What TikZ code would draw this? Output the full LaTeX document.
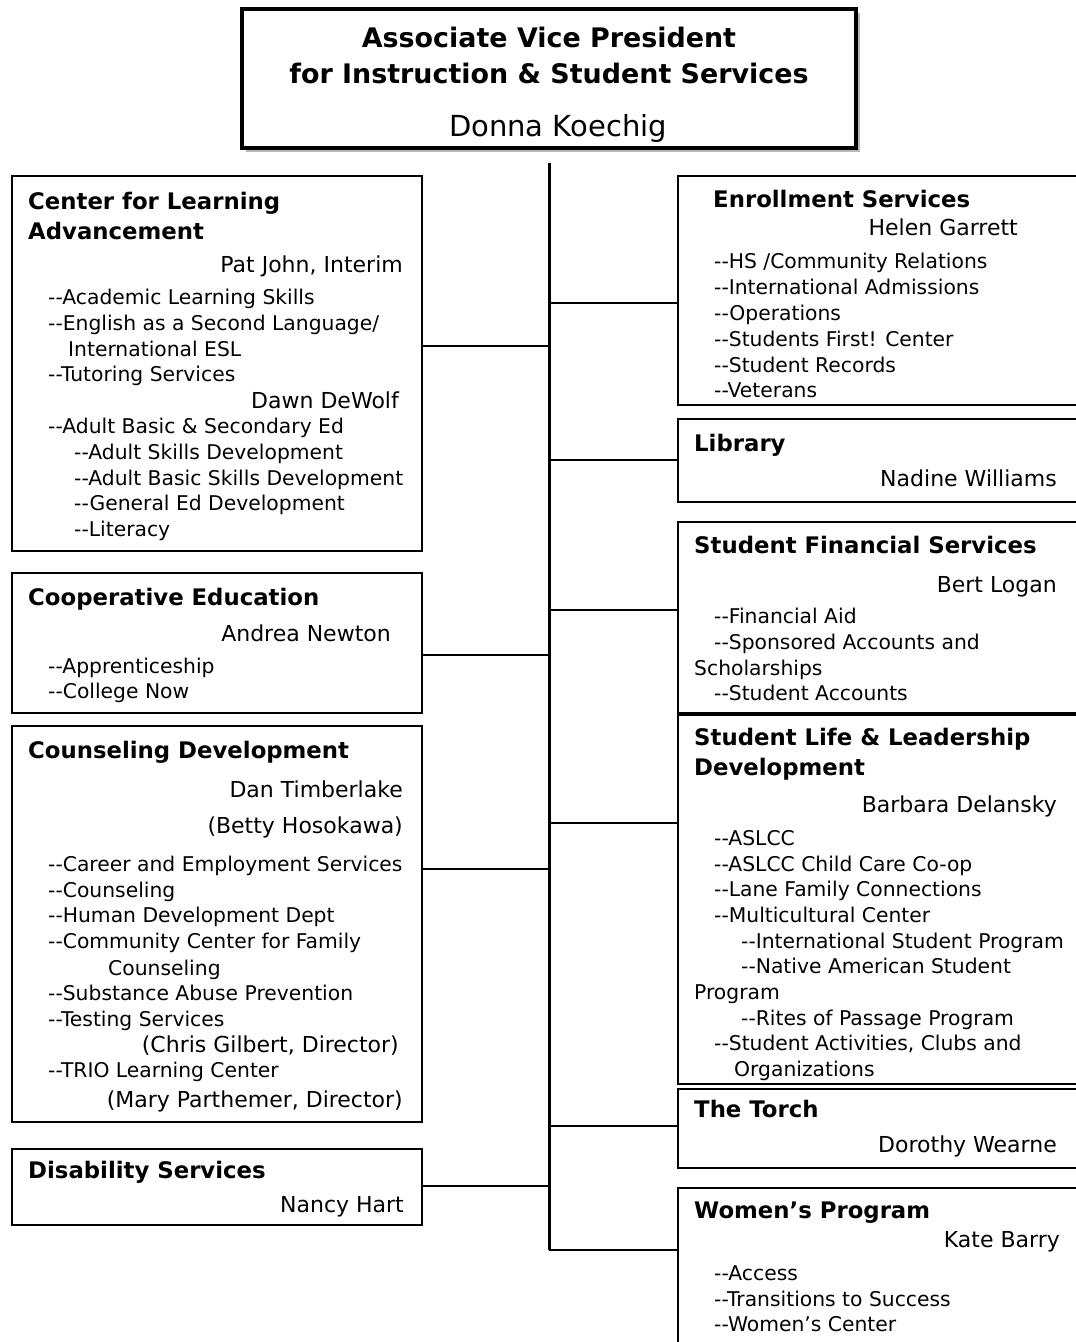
\documentclass[tikz,border=0pt]{standalone}
\usepackage{fontspec}
\setmainfont{DejaVu Sans}[Ligatures=TeXOff]
\usetikzlibrary{shadows}
\tikzset{
  unit/.style={draw, line width=2pt, inner sep=0pt, anchor=north west},
  head/.style={anchor=base west, inner sep=0pt, font=\bfseries\fontsize{22.8}{26}\selectfont},
  who/.style={anchor=base east, inner sep=0pt, font=\fontsize{22}{25}\selectfont},
  item/.style={anchor=base west, inner sep=0pt, font=\fontsize{20.3}{24}\selectfont},
  link/.style={line width=2.5pt},
  trunk/.style={line width=3pt},
}

\begin{document}
\begin{tikzpicture}[x=1pt,y=-1pt]
  \useasboundingbox (0,0) rectangle (1076,1342);
  \fill[white] (0,0) rectangle (1076,1342);
  \clip (0,0) rectangle (1076,1342);

  % head of the chart
  \node[draw, line width=4pt, fill=white, minimum width=614pt, minimum height=139pt,
    drop shadow={shadow xshift=3.5pt, shadow yshift=-3.5pt, fill=gray!55, opacity=1}] (avp) at (549,78.5) {};
  \node[anchor=base, inner sep=0pt, font=\bfseries\fontsize{26.9}{30}\selectfont] (avpT1) at (549,47) {Associate Vice President};
  \node[anchor=base, inner sep=0pt, font=\bfseries\fontsize{26.9}{30}\selectfont] (avpT2) at (549,83) {for Instruction \& Student Services};
  \node[anchor=base, inner sep=0pt, font=\fontsize{29}{32}\selectfont] (avpN) at (558,136) {Donna Koechig};

  % left column
  \node[unit, minimum width=410pt, minimum height=375pt] (cla) at (11,175) {};
  \node[head] (claH1) at (28,209) {Center for Learning};
  \node[head] (claH2) at (28,239) {Advancement};
  \node[who] (claN1) at (403,272) {Pat John, Interim};
  \node[item] (claI1) at (48,304) {--Academic Learning Skills};
  \node[item] (claI2) at (48,330) {--English as a Second Language/};
  \node[item] (claI3) at (68,356) {International ESL};
  \node[item] (claI4) at (48,381) {--Tutoring Services};
  \node[who] (claN2) at (399,408) {Dawn DeWolf};
  \node[item] (claI5) at (48,433) {--Adult Basic \& Secondary Ed};
  \node[item] (claI6) at (74,459) {--Adult Skills Development};
  \node[item] (claI7) at (74,485) {--Adult Basic Skills Development};
  \node[item] (claI8) at (74,510) {--General Ed Development};
  \node[item] (claI9) at (74,536) {--Literacy};

  \node[unit, minimum width=410pt, minimum height=140pt] (coop) at (11,572) {};
  \node[head] (coopH) at (28,605) {Cooperative Education};
  \node[who] (coopN) at (391,641) {Andrea Newton};
  \node[item] (coopI1) at (48,673) {--Apprenticeship};
  \node[item] (coopI2) at (48,698) {--College Now};

  \node[unit, minimum width=410pt, minimum height=396pt] (coun) at (11,725) {};
  \node[head] (counH) at (28,758) {Counseling Development};
  \node[who] (counN1) at (403,797) {Dan Timberlake};
  \node[who] (counN2) at (403,833) {(Betty Hosokawa)};
  \node[item] (counI1) at (48,871) {--Career and Employment Services};
  \node[item] (counI2) at (48,897) {--Counseling};
  \node[item] (counI3) at (48,922) {--Human Development Dept};
  \node[item] (counI4) at (48,948) {--Community Center for Family};
  \node[item] (counI5) at (108,975) {Counseling};
  \node[item] (counI6) at (48,1000) {--Substance Abuse Prevention};
  \node[item] (counI7) at (48,1026) {--Testing Services};
  \node[who] (counN3) at (399,1052) {(Chris Gilbert, Director)};
  \node[item] (counI8) at (48,1077) {--TRIO Learning Center};
  \node[who] (counN4) at (403,1107) {(Mary Parthemer, Director)};

  \node[unit, minimum width=410pt, minimum height=76pt] (dis) at (11,1148) {};
  \node[head] (disH) at (28,1178) {Disability Services};
  \node[who] (disN) at (404,1212) {Nancy Hart};

  % right column
  \node[unit, minimum width=420pt, minimum height=229pt] (enr) at (677,175) {};
  \node[head] (enrH) at (713,207) {Enrollment Services};
  \node[who] (enrN) at (1018,235) {Helen Garrett};
  \node[item] (enrI1) at (714,268) {--HS /Community Relations};
  \node[item] (enrI2) at (714,294) {--International Admissions};
  \node[item] (enrI3) at (714,320) {--Operations};
  \node[item] (enrI4) at (714,346) {--Students First! Center};
  \node[item] (enrI5) at (714,372) {--Student Records};
  \node[item] (enrI6) at (714,397) {--Veterans};

  \node[unit, minimum width=420pt, minimum height=83pt] (lib) at (677,418) {};
  \node[head] (libH) at (694,451) {Library};
  \node[who] (libN) at (1057,486) {Nadine Williams};

  \node[unit, minimum width=420pt, minimum height=191pt] (sfs) at (677,521) {};
  \node[head] (sfsH) at (694,553) {Student Financial Services};
  \node[who] (sfsN) at (1057,592) {Bert Logan};
  \node[item] (sfsI1) at (714,623) {--Financial Aid};
  \node[item] (sfsI2) at (714,649) {--Sponsored Accounts and};
  \node[item] (sfsI3) at (694,675) {Scholarships};
  \node[item] (sfsI4) at (714,700) {--Student Accounts};

  \node[unit, minimum width=420pt, minimum height=369pt] (sll) at (677,714) {};
  \node[head] (sllH1) at (694,745) {Student Life \& Leadership};
  \node[head] (sllH2) at (694,775) {Development};
  \node[who] (sllN) at (1057,812) {Barbara Delansky};
  \node[item] (sllI1) at (714,845) {--ASLCC};
  \node[item] (sllI2) at (714,871) {--ASLCC Child Care Co-op};
  \node[item] (sllI3) at (714,896) {--Lane Family Connections};
  \node[item] (sllI4) at (714,922) {--Multicultural Center};
  \node[item] (sllI5) at (741,948) {--International Student Program};
  \node[item] (sllI6) at (741,973) {--Native American Student};
  \node[item] (sllI7) at (694,999) {Program};
  \node[item] (sllI8) at (741,1025) {--Rites of Passage Program};
  \node[item] (sllI9) at (714,1050) {--Student Activities, Clubs and};
  \node[item] (sllI10) at (734,1076) {Organizations};

  \node[unit, minimum width=420pt, minimum height=79pt] (tor) at (677,1088) {};
  \node[head] (torH) at (694,1117) {The Torch};
  \node[who] (torN) at (1057,1152) {Dorothy Wearne};

  \node[unit, minimum width=420pt, minimum height=180pt] (wom) at (677,1187) {};
  \node[head] (womH) at (694,1218) {Women’s Program};
  \node[who] (womN) at (1060,1247) {Kate Barry};
  \node[item] (womI1) at (714,1280) {--Access};
  \node[item] (womI2) at (714,1306) {--Transitions to Success};
  \node[item] (womI3) at (714,1331) {--Women’s Center};

  % trunk and branches
  \coordinate (tTop) at (549,163);
  \coordinate (tBot) at (549,1250);
  \draw[trunk] (tTop) -- (tBot);
  \coordinate (jCla) at (549,346);
  \coordinate (jCoop) at (549,655);
  \coordinate (jCoun) at (549,869);
  \coordinate (jDis) at (549,1186);
  \coordinate (jEnr) at (549,303);
  \coordinate (jLib) at (549,460);
  \coordinate (jSfs) at (549,610);
  \coordinate (jSll) at (549,823);
  \coordinate (jTor) at (549,1126);
  \draw[link] (jCla) -- (jCla -| cla.east);
  \draw[link] (jCoop) -- (jCoop -| coop.east);
  \draw[link] (jCoun) -- (jCoun -| coun.east);
  \draw[link] (jDis) -- (jDis -| dis.east);
  \draw[link] (jEnr) -- (jEnr -| enr.west);
  \draw[link] (jLib) -- (jLib -| lib.west);
  \draw[link] (jSfs) -- (jSfs -| sfs.west);
  \draw[link] (jSll) -- (jSll -| sll.west);
  \draw[link] (jTor) -- (jTor -| tor.west);
  \draw[link] (tBot) -- (tBot -| wom.west);
\end{tikzpicture}
\end{document}
